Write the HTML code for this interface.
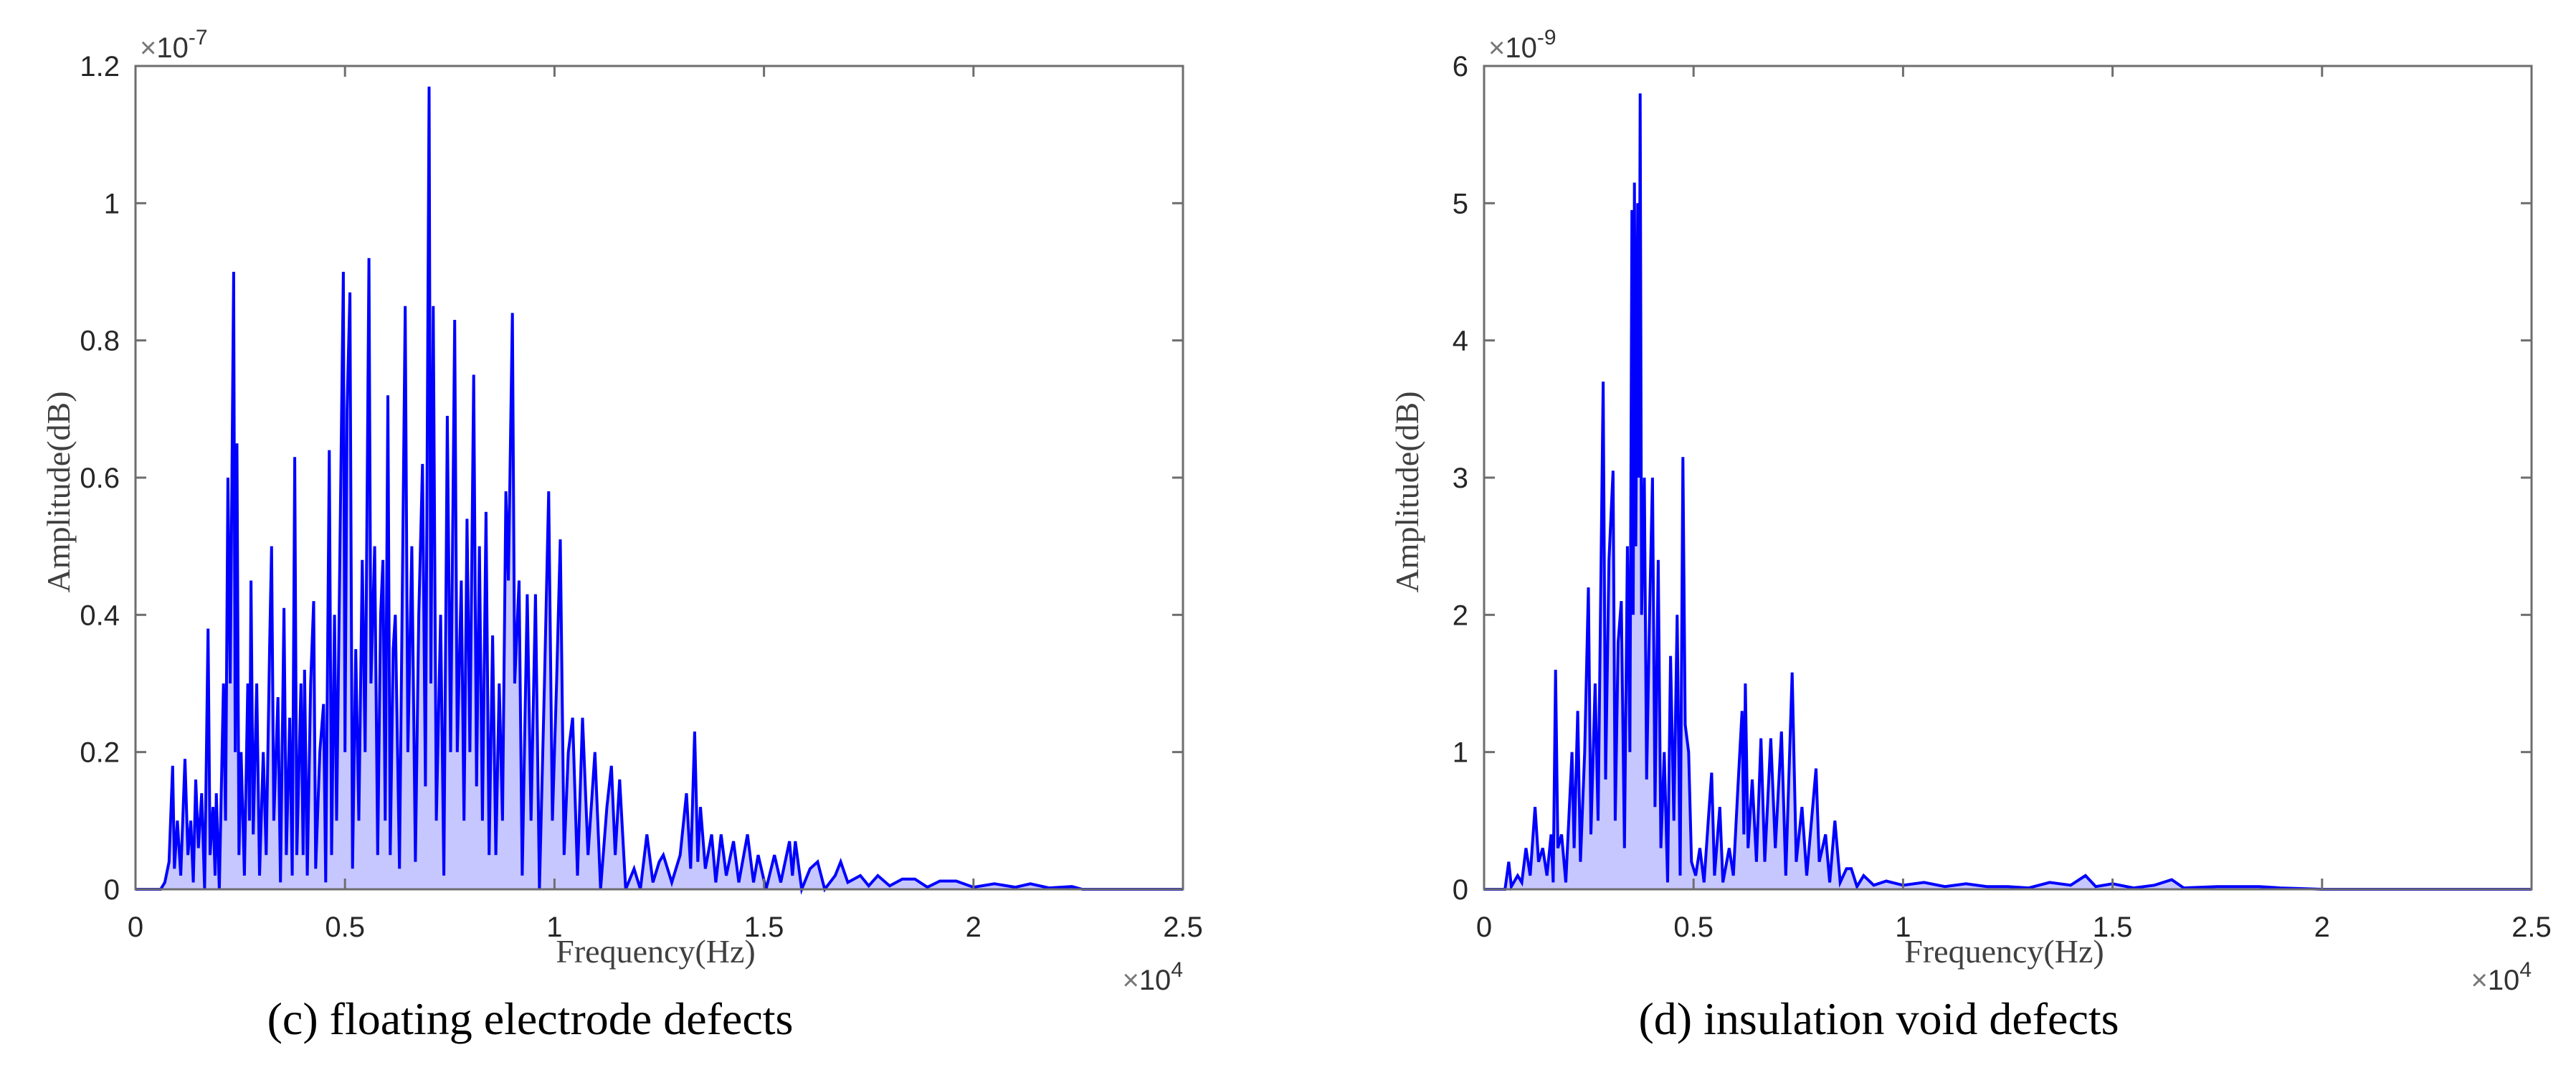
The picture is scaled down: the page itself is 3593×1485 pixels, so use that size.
<!DOCTYPE html>
<html><head><meta charset="utf-8">
<style>
html,body{margin:0;padding:0;background:#fff;}
svg{display:block;}
</style></head>
<body>
<svg id="fig" width="3593" height="1485" viewBox="0 0 3593 1485" xmlns="http://www.w3.org/2000/svg"></svg>
<script>
// ---- Chart (c): floating electrode defects (amplitude in units of 1e-7) ----
const freqC = [0,600,700,800,886,930,1000,1080,1180,1250,1320,1380,1437,1500,1580,1650,1732,1780,1850,1900,1929,2000,2100,2150,2205,2260,2343,2380,2421,2470,2520,2600,2680,2720,2756,2810,2894,2960,3050,3120,3200,3248,3300,3400,3460,3543,3600,3680,3740,3800,3850,3950,4000,4035,4100,4180,4252,4300,4400,4488,4540,4626,4680,4750,4800,4880,4961,5000,5050,5118,5180,5256,5330,5413,5480,5571,5620,5709,5780,5850,5906,5960,6024,6080,6150,6201,6300,6437,6500,6594,6680,6760,6850,6920,7008,7050,7106,7180,7283,7360,7441,7520,7618,7680,7776,7840,7913,7980,8071,8140,8209,8280,8366,8440,8524,8600,8681,8760,8839,8900,8996,9050,9154,9230,9350,9440,9547,9640,9760,9862,9950,10050,10138,10230,10330,10433,10550,10669,10800,10965,11100,11250,11358,11450,11555,11700,11900,12050,12205,12350,12500,12598,12800,13000,13150,13250,13346,13420,13484,13600,13750,13850,13976,14100,14272,14400,14606,14750,14862,15050,15250,15400,15610,15680,15748,15900,16100,16280,16450,16700,16831,17000,17300,17500,17717,18000,18300,18602,18900,19200,19587,20000,20500,21000,21358,21800,22350,22600,25000];
const ampC = [0,0,0.01,0.04,0.18,0.03,0.1,0.02,0.19,0.05,0.1,0.01,0.16,0.06,0.14,0,0.38,0.05,0.12,0.02,0.14,0,0.3,0.1,0.6,0.3,0.9,0.2,0.65,0.05,0.2,0.02,0.3,0.1,0.45,0.08,0.3,0.02,0.2,0.05,0.35,0.5,0.1,0.28,0.01,0.41,0.05,0.25,0.02,0.63,0.05,0.3,0.05,0.32,0.02,0.3,0.42,0.03,0.2,0.27,0.01,0.64,0.05,0.4,0.1,0.5,0.9,0.2,0.7,0.87,0.03,0.35,0.1,0.48,0.2,0.92,0.3,0.5,0.05,0.4,0.48,0.1,0.72,0.05,0.35,0.4,0.03,0.85,0.2,0.5,0.04,0.4,0.62,0.15,1.17,0.3,0.85,0.1,0.4,0.02,0.69,0.2,0.83,0.2,0.45,0.1,0.54,0.2,0.75,0.15,0.5,0.1,0.55,0.05,0.37,0.05,0.3,0.1,0.58,0.45,0.84,0.3,0.45,0.02,0.43,0.1,0.43,0,0.3,0.58,0.1,0.3,0.51,0.05,0.2,0.25,0.02,0.25,0.05,0.2,0,0.12,0.18,0.05,0.16,0,0.03,0,0.08,0.01,0.04,0.05,0.01,0.05,0.14,0.03,0.23,0.04,0.12,0.03,0.08,0.01,0.08,0.02,0.07,0.01,0.08,0.01,0.05,0,0.05,0.01,0.07,0.02,0.07,0,0.03,0.04,0,0.02,0.04,0.01,0.02,0.005,0.02,0.005,0.015,0.015,0.003,0.012,0.012,0.003,0.008,0.003,0.008,0.002,0.004,0,0];
const yTicksC = [0,0.2,0.4,0.6,0.8,1,1.2];
const yTickLabelsC = ["0","0.2","0.4","0.6","0.8","1","1.2"];

// ---- Chart (d): insulation void defects (amplitude in units of 1e-9) ----
const freqD = [0,500,588,650,800,900,1000,1100,1216,1300,1400,1500,1600,1650,1706,1760,1850,1950,2098,2150,2235,2300,2400,2490,2550,2650,2720,2843,2900,2980,3078,3130,3200,3275,3350,3420,3480,3529,3560,3588,3620,3667,3700,3725,3760,3824,3880,3950,4020,4080,4157,4220,4300,4380,4451,4530,4608,4680,4745,4800,4882,4950,5050,5150,5250,5350,5431,5500,5627,5700,5850,5950,6050,6157,6200,6235,6300,6400,6500,6608,6700,6843,6950,7098,7200,7353,7450,7588,7700,7922,8000,8150,8250,8373,8500,8650,8765,8900,9059,9300,9600,10000,10500,11000,11500,12000,12500,13000,13500,14000,14353,14600,15000,15500,16000,16412,16700,17500,18500,19000,19500,20000,25000];
const ampD = [0,0,0.2,0.02,0.1,0.05,0.3,0.1,0.6,0.2,0.3,0.1,0.4,0.05,1.6,0.3,0.4,0.05,1.0,0.3,1.3,0.2,1.0,2.2,0.4,1.5,0.5,3.7,0.8,2.4,3.05,0.5,1.8,2.1,0.3,2.5,1.0,4.95,2.0,5.15,2.5,5.0,3.0,5.8,2.0,3.0,0.8,2.0,3.0,0.6,2.4,0.3,1.0,0.05,1.7,0.5,2.0,0.1,3.15,1.2,1.0,0.2,0.1,0.3,0.05,0.5,0.85,0.1,0.6,0.05,0.3,0.1,0.7,1.3,0.4,1.5,0.3,0.8,0.2,1.1,0.2,1.1,0.3,1.15,0.1,1.58,0.2,0.6,0.1,0.88,0.2,0.4,0.05,0.5,0.05,0.15,0.15,0.02,0.1,0.03,0.06,0.03,0.05,0.02,0.04,0.02,0.02,0.01,0.05,0.03,0.1,0.02,0.04,0.01,0.03,0.07,0.01,0.02,0.02,0.01,0.005,0,0];
const yTicksD = [0,1,2,3,4,5,6];
const yTickLabelsD = ["0","1","2","3","4","5","6"];

const xTicks = [0,5000,10000,15000,20000,25000];
const xTickLabels = ["0","0.5","1","1.5","2","2.5"];

const NS = "http://www.w3.org/2000/svg";
const svg = document.getElementById('fig');
function mk(tag, attrs, parent){
  const e = document.createElementNS(NS, tag);
  for (const k in attrs) e.setAttribute(k, attrs[k]);
  (parent||svg).appendChild(e);
  return e;
}

function drawChart(cfg){
  const {x0,x1,y0,y1,ymax,freq,amp,yTicks,yLabels,expo,caption,key} = cfg;
  const sx = f => x0 + (f/25000)*(x1-x0);
  const sy = v => y1 - (v/ymax)*(y1-y0);
  const g = mk('g', {});
  
  

  let pts = [];
  for (let i=0;i<freq.length;i++) pts.push(sx(freq[i]).toFixed(1)+','+sy(amp[i]).toFixed(1));
  const area = mk('polygon', {points: pts.join(' ')+' '+sx(25000)+','+y1+' '+x0+','+y1, fill:'#0000ff', 'fill-opacity':0.22, stroke:'none'}, g);
  
  
  const line = mk('polyline', {points: pts.join(' '), fill:'none', stroke:'#0000ff', 'stroke-width':4, 'stroke-linejoin':'miter'}, g);
  
  

  const box = mk('rect', {x:x0, y:y0, width:x1-x0, height:y1-y0, fill:'none', stroke:'#6e6e6e', 'stroke-width':3}, g);
  
  

  yTicks.forEach((t,i)=>{
    const y = sy(t);
    mk('line',{x1:x0,y1:y,x2:x0+15,y2:y,stroke:'#6e6e6e','stroke-width':3},g);
    mk('line',{x1:x1,y1:y,x2:x1-15,y2:y,stroke:'#6e6e6e','stroke-width':3},g);
    const tx = mk('text',{x:x0-22,y:y+14,'text-anchor':'end','font-family':'Liberation Sans, sans-serif','font-size':40,fill:'#262626'},g);
    tx.textContent = yLabels[i];
    
    
  });
  xTicks.forEach((t,i)=>{
    const x = sx(t);
    mk('line',{x1:x,y1:y1,x2:x,y2:y1-15,stroke:'#6e6e6e','stroke-width':3},g);
    mk('line',{x1:x,y1:y0,x2:x,y2:y0+15,stroke:'#6e6e6e','stroke-width':3},g);
    const tx = mk('text',{x:x,y:y1+66,'text-anchor':'middle','font-family':'Liberation Sans, sans-serif','font-size':40,fill:'#262626'},g);
    tx.textContent = xTickLabels[i];
    
    
  });
  const ye = mk('text',{x:x0+6,y:y0-12,'font-family':'Liberation Sans, sans-serif','font-size':40,fill:'#333'},g);
  ye.innerHTML = '<tspan fill="#777">\u00d7</tspan>10<tspan font-size="30" dy="-18">'+expo+'</tspan>';
  
  
  const xe = mk('text',{x:x1,y:y1+140,'text-anchor':'end','font-family':'Liberation Sans, sans-serif','font-size':40,fill:'#333'},g);
  xe.innerHTML = '<tspan fill="#777">\u00d7</tspan>10<tspan font-size="30" dy="-18">4</tspan>';
  
  
  const xt = mk('text',{x:(x0+x1)/2 - 5,y:y1+102,'text-anchor':'middle','font-family':'Liberation Serif, serif','font-size':46,fill:'#404040'},g);
  xt.textContent = 'Frequency(Hz)';
  
  
  const yx = x0-92, yy = (y0+y1)/2 + 20;
  const yt = mk('text',{x:yx,y:yy,'text-anchor':'middle','font-family':'Liberation Serif, serif','font-size':46,fill:'#404040',transform:'rotate(-90 '+yx+' '+yy+')'},g);
  yt.textContent = 'Amplitude(dB)';
  
  
  const cp = mk('text',{x:(x0+x1)/2 - 180,y:y1+202,'text-anchor':'middle','font-family':'Liberation Serif, serif','font-size':64,fill:'#000'},g);
  cp.textContent = caption;
  
  
}

drawChart({x0:189,x1:1650,y0:92,y1:1240,ymax:1.2,freq:freqC,amp:ampC,yTicks:yTicksC,yLabels:yTickLabelsC,expo:'-7',caption:'(c) floating electrode defects',key:'floating-electrode'});
drawChart({x0:2070,x1:3531,y0:92,y1:1240,ymax:6,freq:freqD,amp:ampD,yTicks:yTicksD,yLabels:yTickLabelsD,expo:'-9',caption:'(d) insulation void defects',key:'insulation-void'});
</script>
</body></html>
